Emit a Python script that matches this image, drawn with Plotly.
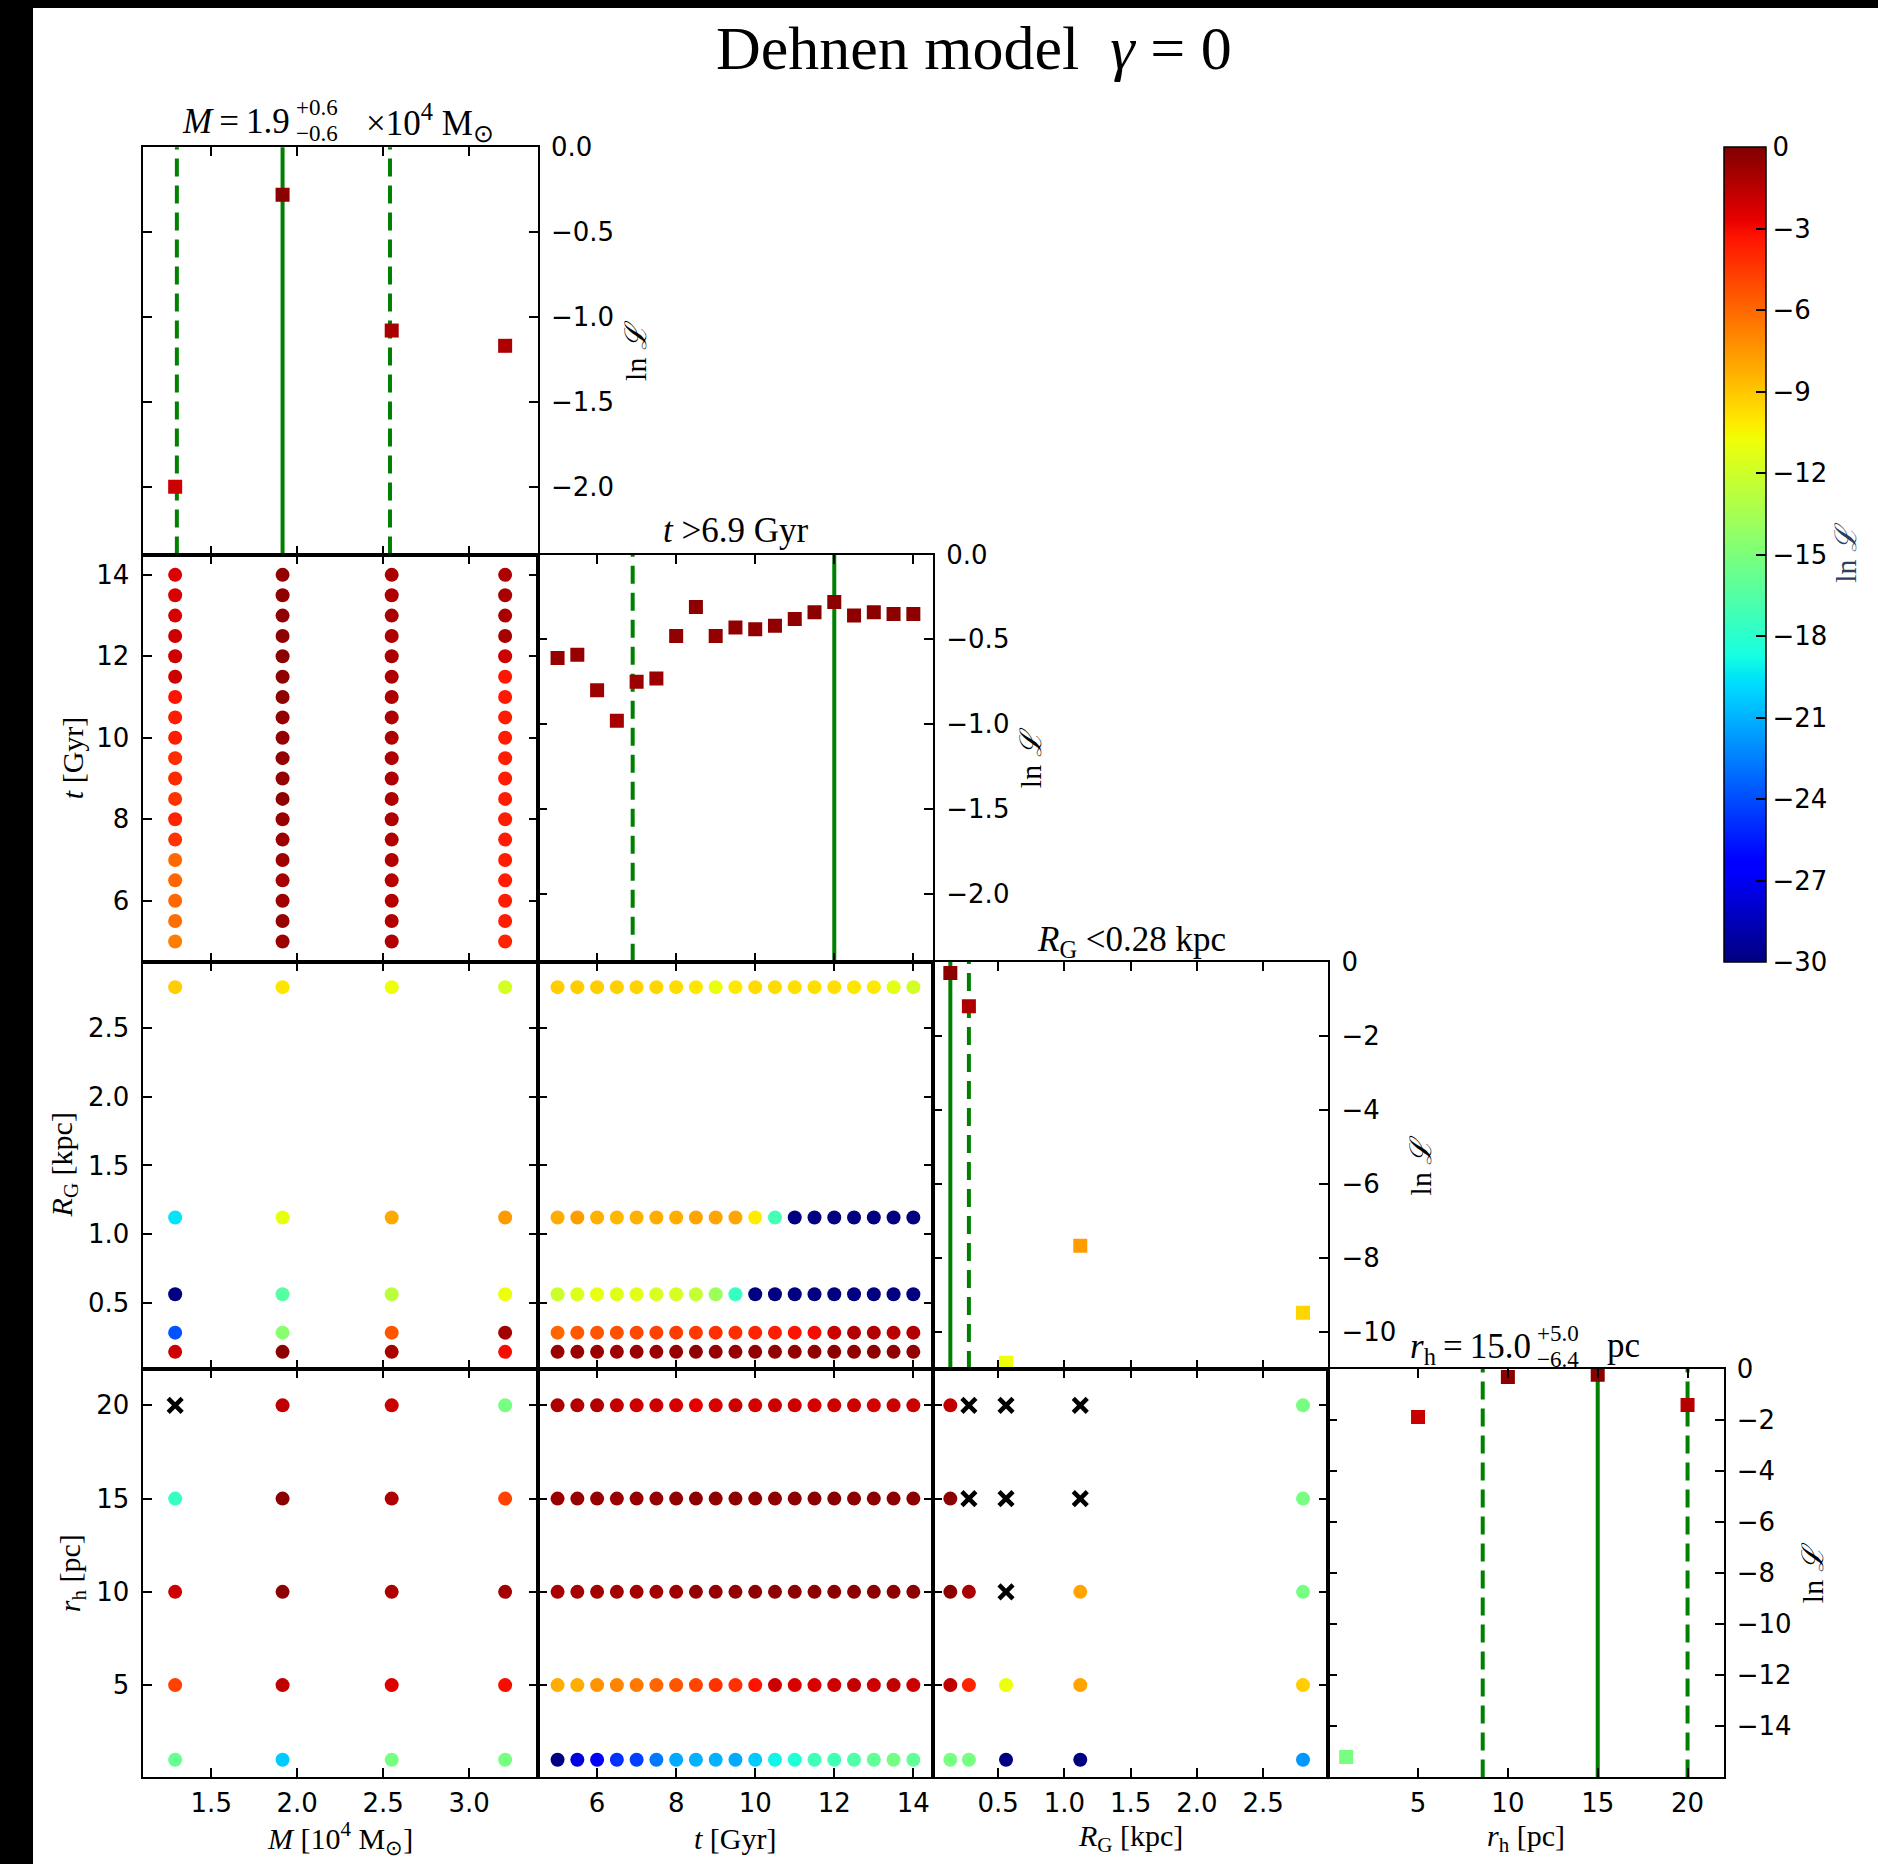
import plotly.graph_objects as go

W, H = 1878, 1864

# ---------------- data ----------------
M_vals = [1.29, 1.915, 2.55, 3.21]
t_vals = [5.0, 5.5, 6.0, 6.5, 7.0, 7.5, 8.0, 8.5, 9.0, 9.5, 10.0, 10.5,
          11.0, 11.5, 12.0, 12.5, 13.0, 13.5, 14.0]
RG_vals = [0.14, 0.28, 0.56, 1.12, 2.8]
rh_vals = [1, 5, 10, 15, 20]

# 1-D likelihood profiles (diagonal panels)
lnL_M = [-2.0, -0.28, -1.08, -1.17]
lnL_t = [-0.61, -0.59, -0.80, -0.98, -0.75, -0.73, -0.48, -0.31, -0.48, -0.43,
         -0.44, -0.42, -0.38, -0.34, -0.28, -0.36, -0.34, -0.35, -0.35]
lnL_RG = [-0.30, -1.20, -10.83, -7.67, -9.48]
lnL_rh = [-15.2, -1.88, -0.31, -0.23, -1.41]

# best values and limits (green lines)
M_best, M_lo, M_hi = 1.915, 1.30, 2.54
t_best, t_lo = 12.0, 6.9
RG_best, RG_hi = 0.14, 0.28
rh_best, rh_lo, rh_hi = 15.0, 8.6, 20.0

# 2-D grids; None = excluded model (black cross)
# t vs M : one list per M value, running over t
lnL_t_by_M = [
    [-6.7, -6.2, -6.0, -5.9, -6.0, -4.3, -3.8, -4.3, -4.0, -4.1, -3.6, -3.6, -3.3, -2.0, -2.0, -2.0, -2.2, -2.3, -2.4],
    [-0.7, -0.6, -0.8, -1.0, -0.8, -0.7, -0.6, -0.4, -0.6, -0.5, -0.5, -0.5, -0.4, -0.4, -0.3, -0.4, -0.4, -0.4, -0.5],
    [-1.3, -1.3, -1.4, -1.4, -1.3, -1.3, -1.2, -1.2, -1.2, -1.2, -1.2, -1.2, -1.2, -1.2, -1.1, -1.2, -1.1, -1.2, -1.1],
    [-3.8, -3.6, -3.6, -3.6, -3.6, -3.6, -3.6, -3.6, -3.6, -3.6, -3.6, -3.6, -3.5, -3.4, -2.0, -1.0, -1.1, -1.1, -1.2],
]
# RG vs M : one list per M value, running over RG
lnL_RG_by_M = [
    [-2.0, -23.8, -30.0, -19.5, -9.2],
    [-0.3, -14.5, -16.4, -11.1, -10.0],
    [-1.1, -5.4, -12.7, -8.1, -10.8],
    [-3.1, -0.9, -10.9, -7.6, -11.8],
]
# RG vs t : one list per RG value, running over t
lnL_t_by_RG = [
    [-0.7, -0.7, -0.7, -0.8, -0.7, -0.7, -0.6, -0.4, -0.6, -0.6, -0.5, -0.5, -0.5, -0.4, -0.3, -0.5, -0.4, -0.4, -0.5],
    [-5.9, -5.5, -5.4, -5.2, -5.0, -4.8, -4.6, -4.5, -4.2, -4.1, -3.8, -3.6, -3.3, -3.1, -2.0, -1.3, -1.3, -1.5, -1.3],
    [-12.1, -11.5, -11.1, -11.3, -11.3, -11.6, -11.7, -12.4, -13.8, -17.6, -30.0, -30.0, -30.0, -30.0, -30.0, -30.0, -30.0, -30.0, -30.0],
    [-8.2, -7.7, -8.3, -8.5, -8.3, -8.2, -8.2, -7.9, -7.9, -8.0, -10.2, -17.0, -30.0, -30.0, -30.0, -30.0, -30.0, -30.0, -30.0],
    [-9.2, -9.2, -9.2, -9.3, -9.4, -9.5, -9.7, -10.0, -11.0, -10.1, -9.7, -9.7, -9.8, -9.8, -9.8, -10.0, -10.1, -11.2, -11.9],
]
# rh vs M : one list per M value, running over rh
lnL_rh_by_M = [
    [-15.8, -4.8, -2.0, -17.6, None],
    [-20.3, -1.6, -0.3, -0.3, -1.6],
    [-15.2, -2.4, -1.2, -1.2, -2.0],
    [-15.2, -3.1, -0.9, -4.8, -15.2],
]
# rh vs t : one list per rh value, running over t
lnL_t_by_rh = [
    [-30.0, -27.5, -26.5, -24.8, -24.4, -22.7, -21.2, -21.0, -21.0, -21.2, -20.3, -19.0, -18.3, -17.2, -17.2, -16.6, -16.0, -15.3, -16.0],
    [-8.2, -8.2, -7.4, -6.9, -6.5, -5.9, -5.4, -4.9, -4.3, -4.2, -3.3, -2.0, -2.3, -2.3, -2.0, -1.7, -2.0, -1.7, -2.0],
    [-1.1, -1.0, -0.9, -0.9, -0.9, -0.9, -0.8, -0.5, -0.6, -0.5, -0.4, -0.4, -0.3, -0.3, -0.3, -0.3, -0.3, -0.3, -0.3],
    [-0.7, -0.6, -0.6, -0.7, -0.6, -0.6, -0.5, -0.3, -0.4, -0.4, -0.4, -0.4, -0.3, -0.3, -0.2, -0.3, -0.3, -0.3, -0.3],
    [-1.2, -1.4, -1.3, -1.7, -2.0, -2.0, -2.2, -2.7, -2.3, -2.0, -2.2, -2.0, -2.0, -2.2, -2.0, -2.0, -2.2, -2.0, -2.0],
]
# rh vs RG : one list per RG value, running over rh
lnL_rh_by_RG = [
    [-15.2, -1.6, -0.3, -0.3, -1.6],
    [-15.2, -3.8, -1.1, None, None],
    [-30.0, -10.9, None, None, None],
    [-30.0, -7.9, -7.9, None, None],
    [-21.8, -9.2, -15.2, -15.2, -15.2],
]

# tick labels
M_ticks = [1.5, 2.0, 2.5, 3.0]
M_ticktext = ["1.5", "2.0", "2.5", "3.0"]
t_ticks = [6, 8, 10, 12, 14]
t_ticktext = ["6", "8", "10", "12", "14"]
RG_ticks = [0.5, 1.0, 1.5, 2.0, 2.5]
RG_ticktext = ["0.5", "1.0", "1.5", "2.0", "2.5"]
rh_ticks = [5, 10, 15, 20]
rh_ticktext = ["5", "10", "15", "20"]
lnL_small_ticks = [0, -0.5, -1.0, -1.5, -2.0]
lnL_small_ticktext = ["0.0", "\u22120.5", "\u22121.0", "\u22121.5", "\u22122.0"]
lnL_RG_ticks = [0, -2, -4, -6, -8, -10]
lnL_RG_ticktext = ["0", "\u22122", "\u22124", "\u22126", "\u22128", "\u221210"]
lnL_rh_ticks = [0, -2, -4, -6, -8, -10, -12, -14]
lnL_rh_ticktext = ["0", "\u22122", "\u22124", "\u22126", "\u22128", "\u221210", "\u221212", "\u221214"]
cbar_ticks = [0, -3, -6, -9, -12, -15, -18, -21, -24, -27, -30]
cbar_ticktext = ["0", "\u22123", "\u22126", "\u22129", "\u221212", "\u221215",
                 "\u221218", "\u221221", "\u221224", "\u221227", "\u221230"]

# ---------------- styling helpers ----------------
def jet_colorscale():
    r = [(0, 0), (0.35, 0), (0.66, 1), (0.89, 1), (1, 0.5)]
    g = [(0, 0), (0.125, 0), (0.375, 1), (0.64, 1), (0.91, 0), (1, 0)]
    b = [(0, 0.5), (0.11, 1), (0.34, 1), (0.65, 0), (1, 0)]

    def f(pts, x):
        for (x0, y0), (x1, y1) in zip(pts[:-1], pts[1:]):
            if x0 <= x <= x1:
                return y0 + (y1 - y0) * (x - x0) / (x1 - x0)
        return pts[-1][1]
    stops = sorted(set([p[0] for p in r + g + b]))
    return [[s, "rgb(%d,%d,%d)" % (round(255 * f(r, s)), round(255 * f(g, s)), round(255 * f(b, s)))] for s in stops]

JET = jet_colorscale()
CMIN, CMAX = -30, 0
SERIF = "Liberation Serif, Times New Roman, serif"
SANS = "DejaVu Sans, sans-serif"
TICKFONT = dict(family=SANS, size=26, color="black")
TS = 35     # panel title size
LS = 30     # axis label size
SUBS = 23   # stacked sup/sub size

col_px = [142.5, 537.8, 933.1, 1328.2, 1723.5]
row_px = [147.3, 554.5, 961.8, 1369.0, 1777.4]

xrange_ = {0: [1.1, 3.4], 1: [4.5, 14.5], 2: [0.01, 2.99], 3: [0, 22]}
yrange_ = {1: [4.5, 14.5], 2: [0.015, 2.985], 3: [0.05, 21.95]}
diag_range = {0: [-2.4, 0], 1: [-2.4, 0], 2: [-11, 0], 3: [-16, 0]}
xticks_ = {0: (M_ticks, M_ticktext), 1: (t_ticks, t_ticktext),
           2: (RG_ticks, RG_ticktext), 3: (rh_ticks, rh_ticktext)}
diag_ticks = {0: (lnL_small_ticks, lnL_small_ticktext), 1: (lnL_small_ticks, lnL_small_ticktext),
              2: (lnL_RG_ticks, lnL_RG_ticktext), 3: (lnL_rh_ticks, lnL_rh_ticktext)}

fig = go.Figure()
layout = {}
shapes = []
annotations = []

def px_x(x):
    return x / W

def px_y(y):
    return 1 - y / H

def axis_common():
    return dict(showgrid=False, zeroline=False, showline=True, linecolor="black",
                linewidth=2, ticks="inside", ticklen=9, tickwidth=1.5, tickcolor="black",
                mirror="allticks", tickfont=TICKFONT, fixedrange=True)

panels = [(0, 0), (1, 0), (1, 1), (2, 0), (2, 1), (2, 2), (3, 0), (3, 1), (3, 2), (3, 3)]
axis_names = {}
for k, (r, c) in enumerate(panels, start=1):
    xn = "xaxis" if k == 1 else "xaxis%d" % k
    yn = "yaxis" if k == 1 else "yaxis%d" % k
    xs = "x" if k == 1 else "x%d" % k
    ys = "y" if k == 1 else "y%d" % k
    axis_names[(r, c)] = (xs, ys)
    xa = axis_common()
    xa.update(domain=[px_x(col_px[c]), px_x(col_px[c + 1])], range=xrange_[c], anchor=ys,
              tickvals=xticks_[c][0], ticktext=xticks_[c][1], showticklabels=(r == 3),
              ticklabelstandoff=1)
    ya = axis_common()
    ya.update(domain=[px_y(row_px[r + 1]), px_y(row_px[r])], anchor=xs)
    if r == c:
        ya.update(range=diag_range[r], side="right", tickvals=diag_ticks[r][0],
                  ticktext=diag_ticks[r][1], showticklabels=True, ticklabelstandoff=6)
    else:
        ya.update(range=yrange_[r], tickvals=xticks_[r][0], ticktext=xticks_[r][1],
                  showticklabels=(c == 0), ticklabelstandoff=6)
    layout[xn] = xa
    layout[yn] = ya

MS = 14

def add_pair(xvals, yvals, grid, key, first=False):
    xs, ys = axis_names[key]
    px, py, pc, bx, by = [], [], [], [], []
    for i, yv in enumerate(yvals):
        for j, xv in enumerate(xvals):
            v = grid[i][j]
            if v is None:
                bx.append(xv); by.append(yv)
            else:
                px.append(xv); py.append(yv); pc.append(v)
    marker = dict(size=MS, symbol="circle", color=pc, colorscale=JET, cmin=CMIN, cmax=CMAX,
                  line=dict(width=0))
    if first:
        marker.update(showscale=True, colorbar=dict(
            x=px_x(col_px[4]), xanchor="left", xpad=0, ypad=0,
            y=px_y(row_px[0]), yanchor="top", len=(row_px[2] - row_px[0]) / H, lenmode="fraction",
            thickness=42, thicknessmode="pixels", outlinewidth=1.5, outlinecolor="black",
            ticks="inside", ticklen=10, tickwidth=1.5, tickcolor="black",
            tickvals=cbar_ticks, ticktext=cbar_ticktext, tickfont=TICKFONT,
            title=dict(text="ln <i>\u2112</i>", side="right", font=dict(family=SERIF, size=LS))))
    fig.add_trace(go.Scatter(x=px, y=py, mode="markers", marker=marker, xaxis=xs, yaxis=ys,
                             showlegend=False, hoverinfo="skip"))
    if bx:
        fig.add_trace(go.Scatter(x=bx, y=by, mode="markers", xaxis=xs, yaxis=ys, showlegend=False,
                                 marker=dict(symbol="x-thin", size=MS, color="black",
                                             line=dict(width=4.5, color="black")), hoverinfo="skip"))

def transpose(cols):
    return [list(row) for row in zip(*cols)]

add_pair(M_vals, t_vals, transpose(lnL_t_by_M), (1, 0), first=True)
add_pair(M_vals, RG_vals, transpose(lnL_RG_by_M), (2, 0))
add_pair(t_vals, RG_vals, lnL_t_by_RG, (2, 1))
add_pair(M_vals, rh_vals, transpose(lnL_rh_by_M), (3, 0))
add_pair(t_vals, rh_vals, lnL_t_by_rh, (3, 1))
add_pair(RG_vals, rh_vals, transpose(lnL_rh_by_RG), (3, 2))

def add_diag(xvals, lnl, key, best, limits):
    xs, ys = axis_names[key]
    for v, dash in [(best, "solid")] + [(l, "18px,9px") for l in limits]:
        shapes.append(dict(type="line", xref=xs, yref=ys + " domain", x0=v, x1=v, y0=0, y1=1,
                           line=dict(color="#008000", width=4, dash=dash), layer="below"))
    fig.add_trace(go.Scatter(x=xvals, y=lnl, mode="markers", xaxis=xs, yaxis=ys, showlegend=False,
                             hoverinfo="skip",
                             marker=dict(symbol="square", size=MS, color=lnl, colorscale=JET,
                                         cmin=CMIN, cmax=CMAX, line=dict(width=0))))

add_diag(M_vals, lnL_M, (0, 0), M_best, [M_lo, M_hi])
add_diag(t_vals, lnL_t, (1, 1), t_best, [t_lo])
add_diag(RG_vals, lnL_RG, (2, 2), RG_best, [RG_hi])
add_diag(rh_vals, lnL_rh, (3, 3), rh_best, [rh_lo, rh_hi])

# ---------------- text ----------------
def ann(text, x, y, size, family=SERIF, xanchor="center", yanchor="middle", angle=0):
    annotations.append(dict(text=text, x=px_x(x), y=px_y(y), xref="paper", yref="paper",
                            xanchor=xanchor, yanchor=yanchor, showarrow=False, textangle=angle,
                            font=dict(family=family, size=size, color="black")))

ann("Dehnen model  <i>\u03b3</i> = 0", 974, 48, 62)

# panel titles
TH = "\u2009"
ann("<i>M</i>" + TH + "=" + TH + "1.9", 292, 121, TS, xanchor="right")
ann("+0.6", 294, 108, SUBS, xanchor="left")
ann("\u22120.6", 294, 134, SUBS, xanchor="left")
ann("\u00d710<sup>4</sup> M<sub>\u2299</sub>", 364, 123, TS, xanchor="left")

ann("<i>t</i> >6.9 Gyr", 735.5, 531, TS)
ann("<i>R</i><sub>G</sub> <0.28 kpc", 1131, 941, TS)

ann("<i>r</i><sub>h</sub>" + TH + "=" + TH + "15.0", 1533, 1348, TS, xanchor="right")
ann("+5.0", 1535, 1333, SUBS, xanchor="left")
ann("\u22126.4", 1535, 1359, SUBS, xanchor="left")
ann("pc", 1605, 1345, TS, xanchor="left")

# axis titles (left)
ann("<i>t</i> [Gyr]", 72, (row_px[1] + row_px[2]) / 2, LS, angle=-90)
ann("<i>R</i><sub>G</sub> [kpc]", 64, (row_px[2] + row_px[3]) / 2, LS, angle=-90)
ann("<i>r</i><sub>h</sub> [pc]", 72, (row_px[3] + row_px[4]) / 2, LS, angle=-90)
# axis titles (bottom)
ann("<i>M</i> [10<sup>4</sup> M<sub>\u2299</sub>]", (col_px[0] + col_px[1]) / 2, 1838, LS)
ann("<i>t</i> [Gyr]", (col_px[1] + col_px[2]) / 2, 1838, LS)
ann("<i>R</i><sub>G</sub> [kpc]", (col_px[2] + col_px[3]) / 2, 1838, LS)
ann("<i>r</i><sub>h</sub> [pc]", (col_px[3] + col_px[4]) / 2, 1838, LS)
# ln L labels at right of diagonal panels
for i, xx in enumerate([636, 1030, 1420, 1812]):
    ann("ln <i>\u2112</i>", xx, (row_px[i] + row_px[i + 1]) / 2, LS, angle=-90)

# black frame strips as in the reference image
shapes.append(dict(type="rect", xref="paper", yref="paper", x0=0, x1=33 / W, y0=0, y1=1,
                   fillcolor="black", line=dict(width=0), layer="above"))
shapes.append(dict(type="rect", xref="paper", yref="paper", x0=0, x1=1, y0=1 - 8 / H, y1=1,
                   fillcolor="black", line=dict(width=0), layer="above"))

fig.update_layout(width=W, height=H, margin=dict(l=0, r=0, t=0, b=0, autoexpand=False),
                  paper_bgcolor="white", plot_bgcolor="white", showlegend=False,
                  shapes=shapes, annotations=annotations, **layout)

fig.write_html("out.html")
